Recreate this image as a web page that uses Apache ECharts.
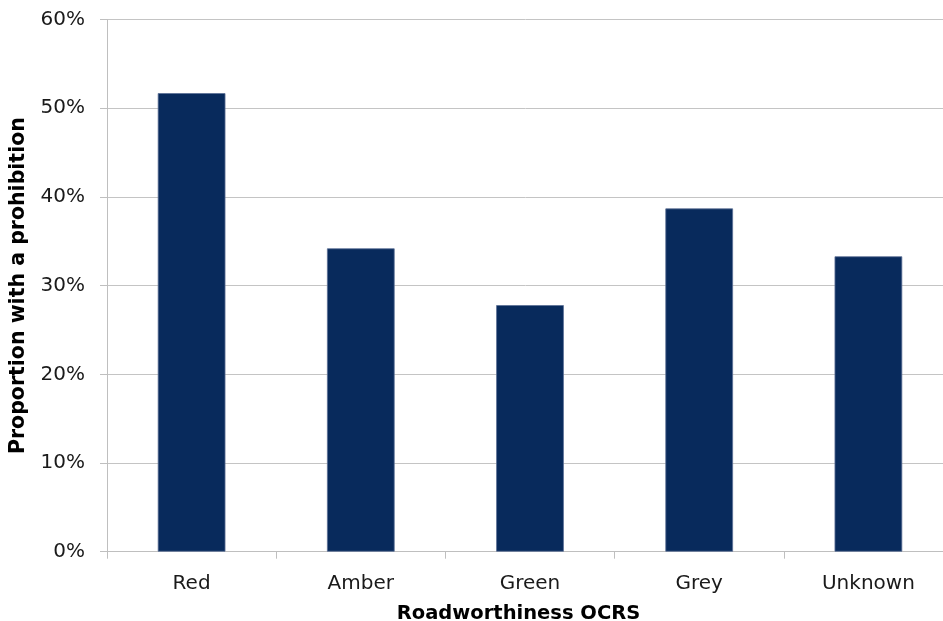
<!DOCTYPE html>
<html><head><meta charset="utf-8">
<script src="https://cdn.jsdelivr.net/npm/echarts@6/dist/echarts.min.js"></script>
<style>html,body{margin:0;padding:0;background:#fff}#c{width:943px;height:621px}</style>
</head><body><div id="c"></div>
<script>
const categories = ['Red', 'Amber', 'Green', 'Grey', 'Unknown'];
const proportions = [51.7, 34.2, 27.8, 38.7, 33.3];
const yTicks = [0, 10, 20, 30, 40, 50, 60];

const chart = echarts.init(document.getElementById('c'), null, {renderer: 'canvas'});
const font = 'DejaVu Sans, Verdana, sans-serif';
chart.setOption({
  animation: false,
  grid: {left: 107, width: 846, top: 19.5, height: 532.2, containLabel: false, outerBoundsMode: 'none'},
  xAxis: {
    type: 'category',
    data: categories,
    boundaryGap: true,
    axisLine: {show: true, lineStyle: {color: '#bfbfbf', width: 1}},
    axisTick: {show: true, length: 7, lineStyle: {color: '#bfbfbf'}},
    axisLabel: {color: '#1a1a1a', fontFamily: font, fontSize: 20, margin: 22},
    name: 'Roadworthiness OCRS',
    nameLocation: 'middle',
    nameGap: 52,
    nameTextStyle: {color: '#000', fontFamily: font, fontSize: 19.5, fontWeight: 'bold', padding: [0, 23, 0, 0]}
  },
  yAxis: {
    type: 'value',
    min: yTicks[0],
    max: yTicks[yTicks.length - 1],
    interval: 10,
    axisLine: {show: true, lineStyle: {color: '#bfbfbf', width: 1}},
    axisTick: {show: true, length: 7, lineStyle: {color: '#bfbfbf'}},
    splitLine: {show: true, lineStyle: {color: '#c4c4c4', width: 1}},
    axisLabel: {color: '#1a1a1a', fontFamily: font, fontSize: 20, margin: 22, formatter: '{value}%'},
    name: 'Proportion with a prohibition',
    nameLocation: 'middle',
    nameGap: 74,
    nameRotate: 90,
    nameTextStyle: {color: '#000', fontFamily: font, fontSize: 20.5, fontWeight: 'bold'}
  },
  series: [{
    type: 'bar',
    data: proportions,
    barWidth: '40%',
    itemStyle: {color: '#082a5c', borderColor: '#5c7096', borderWidth: 0.8}
  }]
});
</script></body></html>
